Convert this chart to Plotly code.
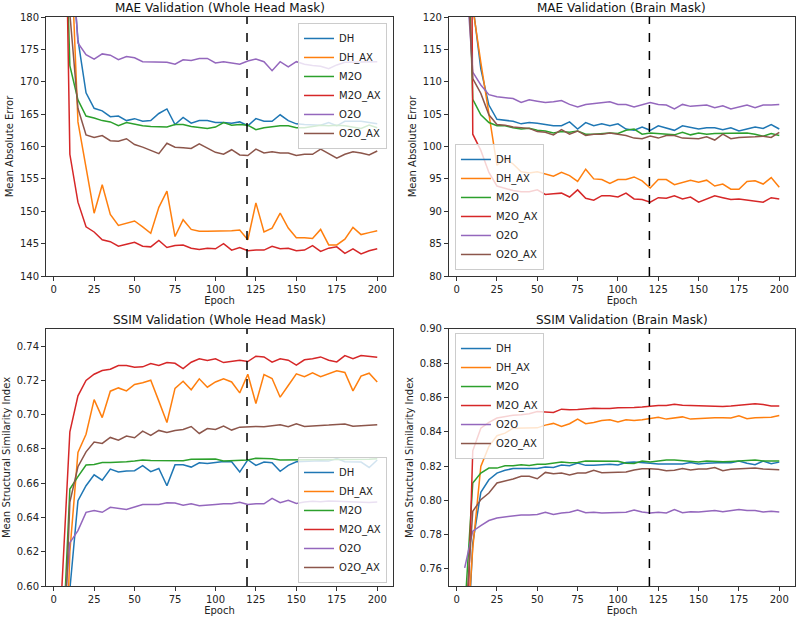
import plotly.graph_objects as go
from plotly.subplots import make_subplots

epochs = list(range(5, 205, 5))
models = ['DH', 'DH_AX', 'M2O', 'M2O_AX', 'O2O', 'O2O_AX']
colors = ['#1f77b4', '#ff7f0e', '#2ca02c', '#d62728', '#9467bd', '#8c564b']
split_epoch = 119.5

# MAE, whole head mask
mae_head_dh = [260, 192, 176.5, 168.3, 165.9, 165.5, 164.6, 164.7, 164.0, 164.3, 163.9, 164.0, 165.1, 165.8, 163.4, 164.5, 163.6, 164.0, 164.0, 163.7,
               163.7, 163.6, 163.8, 163.2, 164.3, 163.9, 163.9, 164.9, 164.0, 163.5, 163.4, 163.4, 163.3, 163.7, 163.2, 163.9, 163.9, 163.9, 163.7, 163.5]
mae_head_dh_ax = [240, 195, 163.8, 156.5, 149.7, 154.1, 149.5, 147.8, 148.2, 148.5, 147.6, 146.6, 150.6, 153.1, 146.1, 148.7, 147.2, 146.9, 146.9, 146.9,
                  146.9, 147.0, 147.1, 145.6, 151.3, 146.8, 147.4, 149.7, 147.4, 145.9, 145.9, 145.8, 147.2, 144.8, 144.8, 145.7, 147.5, 146.4, 146.7, 147.0]
mae_head_m2o = [215, 172.5, 167.2, 164.7, 164.4, 164.0, 163.8, 163.2, 163.7, 163.4, 163.2, 163.1, 163.1, 163.0, 163.4, 163.4, 163.1, 162.9, 162.8, 163.0,
                163.7, 163.3, 163.4, 163.3, 162.6, 162.9, 163.1, 163.2, 163.2, 162.9, 162.9, 163.1, 163.3, 163.2, 163.3, 163.2, 163.0, 162.8, 163.3, 162.9]
mae_head_m2o_ax = [234, 158.8, 151.4, 147.6, 146.8, 145.6, 145.3, 144.6, 144.9, 145.2, 144.6, 144.5, 145.5, 144.4, 144.7, 144.8, 144.3, 144.1, 144.3, 144.2,
                   145.0, 144.0, 144.4, 143.9, 144.0, 144.0, 144.6, 144.2, 144.3, 143.9, 144.0, 144.7, 143.8, 144.3, 144.5, 143.5, 144.2, 143.4, 143.9, 144.2]
mae_head_o2o = [260, 195, 176.0, 174.2, 173.5, 174.3, 174.1, 173.4, 173.9, 173.7, 173.1, 173.1, 173.0, 173.0, 172.7, 173.4, 173.3, 173.6, 173.6, 172.9,
                173.1, 172.9, 172.7, 173.2, 173.5, 173.1, 171.7, 173.1, 172.3, 173.1, 172.7, 172.5, 172.4, 172.0, 172.6, 173.0, 173.0, 173.1, 173.1, 173.1]
mae_head_o2o_ax = [230, 180.5, 165.9, 161.8, 161.4, 161.7, 160.9, 160.8, 161.2, 160.3, 159.9, 159.4, 158.9, 160.5, 159.9, 159.8, 159.7, 160.4, 159.8, 159.1,
                   158.8, 159.5, 158.7, 158.6, 159.6, 159.0, 159.2, 159.0, 159.0, 158.6, 158.8, 158.8, 159.6, 158.9, 158.2, 158.8, 159.2, 159.0, 158.7, 159.3]

# MAE, brain mask
mae_brain_dh = [135, 122, 112, 106.4, 104.2, 104.1, 103.9, 103.5, 103.7, 103.6, 103.4, 103.2, 103.2, 103.8, 102.7, 103.7, 103.2, 103.5, 103.2, 103.5,
                102.7, 102.5, 103.0, 102.5, 103.2, 102.9, 102.5, 103.2, 103.0, 102.7, 102.9, 102.9, 102.6, 102.9, 102.4, 102.7, 103.0, 102.8, 103.4, 102.7]
mae_brain_dh_ax = [140, 121.5, 113, 105, 97.1, 98.2, 97.3, 96.1, 95.9, 96.1, 95.7, 95.4, 96.0, 95.5, 94.6, 96.5, 95.0, 94.9, 94.3, 94.9,
                   94.9, 95.3, 94.7, 93.6, 94.9, 94.9, 94.1, 94.4, 94.8, 94.5, 94.8, 93.9, 94.2, 93.4, 93.4, 94.6, 94.7, 94.2, 95.2, 93.7]
mae_brain_m2o = [150, 107.3, 104.9, 103.7, 103.2, 103.2, 102.9, 102.7, 102.8, 102.5, 102.4, 102.1, 102.3, 102.2, 102.4, 101.9, 101.9, 102.0, 102.1, 102.0,
                 102.5, 102.7, 101.9, 102.1, 102.0, 101.8, 101.8, 102.2, 101.8, 102.1, 101.9, 102.0, 102.0, 102.0, 102.1, 102.1, 101.9, 101.6, 102.0, 101.7]
mae_brain_m2o_ax = [320, 101.9, 99.4, 96.0, 93.9, 93.5, 93.2, 93.0, 93.0, 93.3, 92.6, 92.7, 92.8, 92.2, 93.3, 92.0, 91.7, 92.4, 92.4, 92.2,
                    92.8, 91.9, 91.8, 91.4, 92.1, 92.0, 92.4, 91.9, 92.2, 91.4, 91.9, 92.4, 92.1, 91.8, 91.9, 91.7, 91.5, 91.4, 92.1, 91.9]
mae_brain_o2o = [130, 111.5, 109.5, 108.0, 107.7, 107.6, 107.4, 106.8, 107.2, 107.0, 106.8, 106.9, 107.1, 106.5, 106.1, 106.5, 106.6, 106.7, 106.9, 106.5,
                 106.5, 106.1, 106.4, 106.8, 106.5, 106.4, 105.8, 106.5, 106.2, 106.3, 106.4, 106.0, 106.3, 105.8, 106.1, 106.4, 106.0, 106.4, 106.4, 106.5]
mae_brain_o2o_ax = [135, 110.5, 108.2, 104.9, 103.4, 103.3, 103.0, 102.9, 102.8, 102.3, 102.2, 101.8, 102.6, 101.9, 102.4, 101.7, 101.9, 101.9, 102.1, 101.9,
                    101.7, 101.3, 101.2, 101.6, 101.3, 101.7, 101.7, 101.3, 101.3, 101.2, 101.5, 101.0, 101.9, 101.2, 101.4, 101.4, 101.5, 101.6, 101.4, 102.2]

# SSIM, whole head mask
ssim_head_dh = [0.45, 0.598, 0.6498, 0.6585, 0.6649, 0.6618, 0.6682, 0.6665, 0.6671, 0.6673, 0.6702, 0.6667, 0.6686, 0.6585, 0.6707, 0.6707, 0.6694, 0.6719, 0.6715, 0.6719,
                0.6727, 0.6725, 0.6665, 0.6737, 0.6704, 0.6723, 0.6719, 0.6669, 0.6704, 0.6725, 0.6727, 0.6731, 0.6731, 0.6729, 0.6744, 0.6725, 0.6723, 0.6723, 0.6692, 0.6735]
ssim_head_dh_ax = [0.48, 0.62, 0.678, 0.6886, 0.7088, 0.6983, 0.7137, 0.7156, 0.7139, 0.7176, 0.7186, 0.7201, 0.7079, 0.6954, 0.7153, 0.7195, 0.7145, 0.7209, 0.7160, 0.7191,
                   0.7209, 0.7191, 0.7127, 0.7236, 0.7065, 0.7234, 0.7211, 0.7102, 0.7170, 0.7238, 0.7221, 0.7244, 0.7221, 0.7238, 0.7256, 0.7246, 0.7139, 0.7225, 0.7242, 0.7191]
ssim_head_m2o = [0.552, 0.6566, 0.6638, 0.6706, 0.6709, 0.6721, 0.6721, 0.6721, 0.6725, 0.6729, 0.6735, 0.6733, 0.6733, 0.6735, 0.6735, 0.6731, 0.6739, 0.6739, 0.6742, 0.6741,
                 0.6729, 0.6731, 0.6733, 0.6735, 0.6746, 0.6746, 0.6742, 0.6735, 0.6735, 0.6735, 0.6739, 0.6735, 0.6735, 0.6735, 0.6735, 0.6735, 0.6739, 0.6739, 0.6739, 0.6742]
ssim_head_m2o_ax = [0.598, 0.690, 0.711, 0.720, 0.7236, 0.7258, 0.7265, 0.7287, 0.7287, 0.7277, 0.7279, 0.7298, 0.7287, 0.7304, 0.7300, 0.7269, 0.7306, 0.7326, 0.7316, 0.7326,
                    0.7304, 0.7310, 0.7318, 0.7310, 0.7341, 0.7337, 0.7306, 0.7326, 0.7318, 0.7289, 0.7320, 0.7326, 0.7337, 0.7318, 0.7308, 0.7345, 0.7327, 0.7345, 0.7339, 0.7335]
ssim_head_o2o = [0.568, 0.6253, 0.6323, 0.6430, 0.6441, 0.6430, 0.6459, 0.6453, 0.6447, 0.6461, 0.6476, 0.6476, 0.6476, 0.6486, 0.6484, 0.6472, 0.6480, 0.6468, 0.6470, 0.6476,
                 0.6480, 0.6480, 0.6488, 0.6476, 0.6480, 0.6480, 0.6511, 0.6486, 0.6500, 0.6482, 0.6490, 0.6494, 0.6492, 0.6496, 0.6494, 0.6492, 0.6490, 0.6490, 0.6488, 0.6490]
ssim_head_o2o_ax = [0.527, 0.649, 0.6696, 0.6783, 0.6840, 0.6832, 0.6867, 0.6851, 0.6875, 0.6865, 0.6904, 0.6879, 0.6908, 0.6896, 0.6908, 0.6914, 0.6931, 0.6890, 0.6919, 0.6914,
                    0.6933, 0.6910, 0.6927, 0.6931, 0.6931, 0.6929, 0.6935, 0.6941, 0.6929, 0.6947, 0.6931, 0.6933, 0.6933, 0.6939, 0.6943, 0.6945, 0.6933, 0.6935, 0.6937, 0.6941]

# SSIM, brain mask
ssim_brain_dh = [0.68, 0.775, 0.8047, 0.8120, 0.8159, 0.8175, 0.8186, 0.8186, 0.8184, 0.8186, 0.8194, 0.8192, 0.8206, 0.8202, 0.8217, 0.8204, 0.8204, 0.8208, 0.8210, 0.8206,
                 0.8221, 0.8223, 0.8221, 0.8217, 0.8212, 0.8212, 0.8214, 0.8212, 0.8221, 0.8212, 0.8216, 0.8219, 0.8221, 0.8219, 0.8229, 0.8217, 0.8208, 0.8229, 0.8214, 0.8223]
ssim_brain_dh_ax = [0.70, 0.772, 0.8198, 0.8315, 0.8377, 0.8392, 0.8421, 0.8421, 0.8425, 0.8423, 0.8439, 0.8449, 0.8431, 0.8447, 0.8474, 0.8447, 0.8454, 0.8466, 0.8470, 0.8458,
                    0.8470, 0.8466, 0.8470, 0.8476, 0.8485, 0.8474, 0.8480, 0.8487, 0.8474, 0.8478, 0.8478, 0.8482, 0.8482, 0.8480, 0.8493, 0.8476, 0.8482, 0.8484, 0.8485, 0.8495]
ssim_brain_m2o = [0.735, 0.8101, 0.8159, 0.8188, 0.8188, 0.8202, 0.8202, 0.8208, 0.8204, 0.8210, 0.8210, 0.8217, 0.8223, 0.8219, 0.8221, 0.8229, 0.8229, 0.8227, 0.8227, 0.8228,
                  0.8217, 0.8215, 0.8229, 0.8223, 0.8229, 0.8235, 0.8235, 0.8231, 0.8229, 0.8223, 0.8229, 0.8225, 0.8225, 0.8227, 0.8231, 0.8231, 0.8235, 0.8229, 0.8229, 0.8229]
ssim_brain_m2o_ax = [0.671, 0.8289, 0.8421, 0.8455, 0.8480, 0.8490, 0.8497, 0.8500, 0.8505, 0.8518, 0.8515, 0.8513, 0.8532, 0.8528, 0.8530, 0.8534, 0.8538, 0.8536, 0.8536, 0.8541,
                     0.8540, 0.8542, 0.8544, 0.8550, 0.8553, 0.8553, 0.8561, 0.8555, 0.8553, 0.8553, 0.8551, 0.8546, 0.8548, 0.8550, 0.8553, 0.8559, 0.8563, 0.8559, 0.8551, 0.8551]
ssim_brain_o2o = [0.7606, 0.782, 0.7852, 0.7882, 0.7897, 0.7903, 0.7907, 0.7915, 0.7915, 0.7918, 0.7930, 0.7917, 0.7926, 0.7930, 0.7944, 0.7928, 0.7930, 0.7926, 0.7928, 0.7931,
                  0.7930, 0.7944, 0.7932, 0.7926, 0.7930, 0.7926, 0.7946, 0.7928, 0.7934, 0.7932, 0.7934, 0.7940, 0.7934, 0.7940, 0.7946, 0.7940, 0.7940, 0.7932, 0.7936, 0.7932]
ssim_brain_o2o_ax = [0.723, 0.7936, 0.8004, 0.8043, 0.8101, 0.8111, 0.8124, 0.8140, 0.8140, 0.8126, 0.8163, 0.8155, 0.8159, 0.8148, 0.8159, 0.8159, 0.8175, 0.8161, 0.8163, 0.8161,
                     0.8165, 0.8177, 0.8184, 0.8184, 0.8181, 0.8173, 0.8175, 0.8186, 0.8177, 0.8183, 0.8183, 0.8192, 0.8173, 0.8181, 0.8184, 0.8184, 0.8188, 0.8183, 0.8183, 0.8179]

panels = [
    # (row, col, series, legend, y range, y ticks, y title)
    (1, 1, [mae_head_dh, mae_head_dh_ax, mae_head_m2o, mae_head_m2o_ax, mae_head_o2o, mae_head_o2o_ax],
     'legend', [140, 180], list(range(140, 185, 5)), 'Mean Absolute Error'),
    (1, 2, [mae_brain_dh, mae_brain_dh_ax, mae_brain_m2o, mae_brain_m2o_ax, mae_brain_o2o, mae_brain_o2o_ax],
     'legend2', [80, 120], list(range(80, 125, 5)), 'Mean Absolute Error'),
    (2, 1, [ssim_head_dh, ssim_head_dh_ax, ssim_head_m2o, ssim_head_m2o_ax, ssim_head_o2o, ssim_head_o2o_ax],
     'legend3', [0.60, 0.75], [0.60, 0.62, 0.64, 0.66, 0.68, 0.70, 0.72, 0.74], 'Mean Structural Similarity Index'),
    (2, 2, [ssim_brain_dh, ssim_brain_dh_ax, ssim_brain_m2o, ssim_brain_m2o_ax, ssim_brain_o2o, ssim_brain_o2o_ax],
     'legend4', [0.75, 0.90], [0.76, 0.78, 0.80, 0.82, 0.84, 0.86, 0.88, 0.90], 'Mean Structural Similarity Index'),
]

fig = make_subplots(rows=2, cols=2, subplot_titles=[
    'MAE Validation (Whole Head Mask)', 'MAE Validation (Brain Mask)',
    'SSIM Validation (Whole Head Mask)', 'SSIM Validation (Brain Mask)'])

for row, col, series, leg, yr, yt, ytitle in panels:
    for name, vals, c in zip(models, series, colors):
        fig.add_trace(go.Scatter(x=epochs, y=vals, mode='lines', name=name, legend=leg,
                                 line=dict(color=c, width=1.5)), row=row, col=col)
    fmt = '.2f' if yr[1] < 1 else 'd'
    fig.update_yaxes(range=yr, tickvals=yt, tickformat=fmt, title_text=ytitle, row=row, col=col)
    fig.add_vline(x=split_epoch, line=dict(color='black', width=1.5, dash='dash'), row=row, col=col)

axis_style = dict(showline=True, mirror=True, linecolor='#333333', linewidth=1, ticks='outside',
                  ticklen=4, tickwidth=1, tickcolor='#333333', showgrid=False, zeroline=False,
                  automargin=False,
                  tickfont=dict(size=10, color='#222222'), title_font=dict(size=10, color='#222222'))
fig.update_xaxes(range=[-4.75, 209.75], tickvals=list(range(0, 225, 25)), title_text='Epoch',
                 title_standoff=2, **axis_style)
fig.update_yaxes(title_standoff=4, **axis_style)

# panel positions
fig.update_layout(
    xaxis=dict(domain=[0, 0.4633]), xaxis2=dict(domain=[0.538, 1]),
    xaxis3=dict(domain=[0, 0.4633]), xaxis4=dict(domain=[0.538, 1]),
    yaxis=dict(domain=[0.5448, 1]), yaxis2=dict(domain=[0.5448, 1]),
    yaxis3=dict(domain=[0, 0.4517]), yaxis4=dict(domain=[0, 0.4517]),
)
for ann, (xd, yd) in zip(fig.layout.annotations,
                         [((0, 0.4633), 1), ((0.538, 1), 1), ((0, 0.4633), 0.4517), ((0.538, 1), 0.4517)]):
    ann.x = (xd[0] + xd[1]) / 2
    ann.y = yd
    ann.font = dict(size=12, color='#111111')

leg_style = dict(bgcolor='rgba(255,255,255,0.8)', bordercolor='#cccccc', borderwidth=1,
                 font=dict(size=10, color='#222222'), tracegroupgap=0)
fig.update_layout(
    legend=dict(x=0.4553, y=0.9895, xanchor='right', yanchor='top', **leg_style),
    legend2=dict(x=0.546, y=0.5554, xanchor='left', yanchor='bottom', **leg_style),
    legend3=dict(x=0.4553, y=0.0053, xanchor='right', yanchor='bottom', **leg_style),
    legend4=dict(x=0.546, y=0.4446, xanchor='left', yanchor='top', **leg_style),
    width=800, height=620,
    margin=dict(l=46, r=5, t=17, b=34),
    plot_bgcolor='white', paper_bgcolor='white',
    font=dict(family='DejaVu Sans', color='#222222'),
)

# the page's default body margin would shift the figure by 8px
fig.write_html("out.html", config={'displayModeBar': False},
               post_script="document.body.style.margin = '0';")
